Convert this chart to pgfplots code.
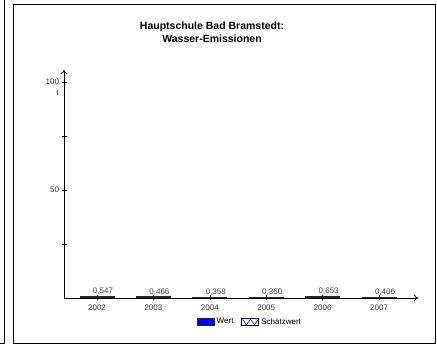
\documentclass[border=0pt]{standalone}
\usepackage{fontspec}
\setmainfont{Liberation Sans}
\usepackage{pgfplots}
\pgfplotsset{compat=1.18}
\usetikzlibrary{patterns,arrows.meta}

\begin{document}
\begin{tikzpicture}[x=1pt,y=1pt]
\useasboundingbox (0,0) rectangle (437,-347);
% frames
\draw[line width=0.9pt] (0,-343) -- (4,-343) -- (4,0);
\draw[line width=0.9pt] (13,-4) rectangle (435,-343);
% title
\node[font=\fontsize{10.5}{13}\selectfont\bfseries, align=center] at (212,-32)
  {Hauptschule Bad Bramstedt:\\Wasser-Emissionen};

\begin{axis}[
    at={(64pt,-298pt)}, anchor=south west,
    scale only axis,
    width=354pt, height=228pt,
    xmin=-0.585, xmax=5.69,
    ymin=0, ymax=105.5,
    axis x line=bottom, axis y line=left,
    axis line style={line width=0.8pt, -{To[length=4pt,width=7pt]}},
    xtick={0,1,2,3,4,5},
    xticklabels={2002,2003,2004,2005,2006,2007},
    ytick={50,100},
    minor ytick={25,75},
    tick align=center,
    major tick length=5pt, minor tick length=5pt,
    tick style={black, line width=0.6pt},
    ticklabel style={font=\fontsize{8}{9}\selectfont, text=black!80},
    /pgf/number format/assume math mode=true,
    xticklabel style={yshift=-1pt},
    yticklabel style={xshift=1pt},
    legend style={draw=none, font=\fontsize{8}{9}\selectfont,
        at={(0.525,-0.105)}, anchor=center, legend columns=2,
        /tikz/every even column/.append style={column sep=6pt}},
    legend image code/.code={\draw[#1] (0pt,-3.5pt) rectangle (17pt,3.5pt);},
    clip=false,
]
\addplot[ybar, bar width=34pt, fill=blue, draw=black!85, line width=1pt,
    nodes near coords,
    nodes near coords style={font=\fontsize{8}{9}\selectfont, text=black!75,
        xshift=6pt, yshift=-2pt,
        /pgf/number format/.cd, fixed, fixed zerofill, precision=3, use comma},
] coordinates {
    (0,0.547) (1,0.466) (2,0.358) (3,0.360) (4,0.653) (5,0.406)
};
\addlegendentry{Wert}
\addlegendimage{legend image code/.code={
    \draw[blue!50!black, line width=0.9pt, fill=white] (0pt,-3.5pt) rectangle (17pt,3.5pt);
    \draw[blue, line width=0.6pt] (0.5pt,3pt) -- (4.5pt,-3pt) -- (8.5pt,3pt) -- (12.5pt,-3pt) -- (16.5pt,3pt);}}
\addlegendentry{Schätzwert}
\node[font=\fontsize{8}{9}\selectfont, text=black!80] at (axis cs:-0.7,95) {t};
\end{axis}
\end{tikzpicture}
\end{document}
